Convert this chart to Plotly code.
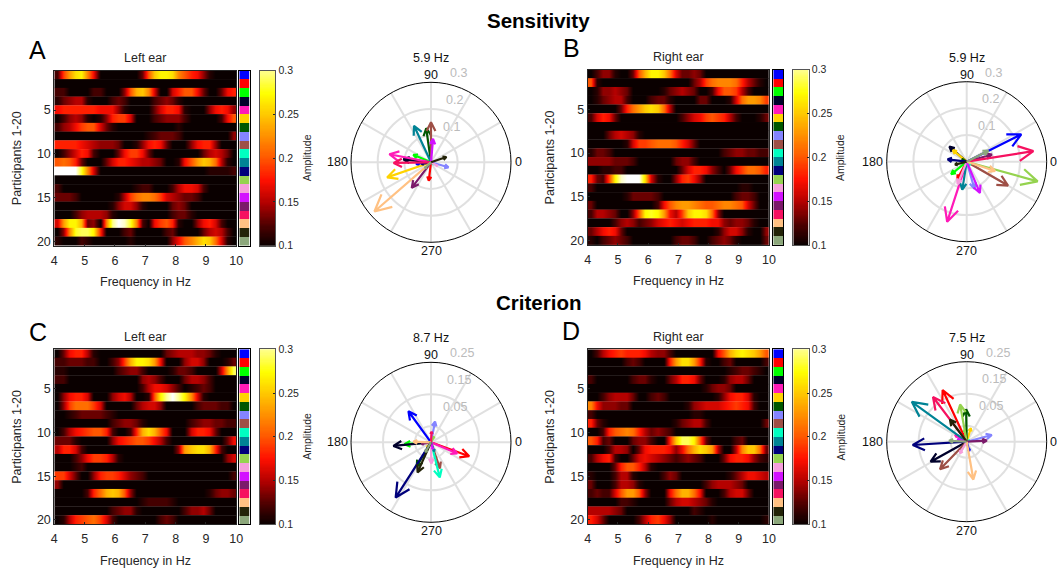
import cmath, math
import numpy as np
import plotly.graph_objects as go

W, H = 1057, 572

# Amplitude in hundredths, 30 columns of 0.2 Hz from 4 to 10 Hz, rows = participants 1-20
sens_left = [
 [12,19,23,26,27,22,17,10,10,10,10,10,10,10,13,20,25,27,27,26,22,20,18,17,14,11,10,10,10,10],
 [10,10,10,10,10,10,10,10,10,10,10,10,10,10,10,10,10,10,10,10,10,10,10,10,10,10,10,10,10,10],
 [12,12,10,10,10,10,12,12,10,10,10,14,20,24,25,22,16,10,10,16,18,20,20,17,13,10,10,13,17,18],
 [11,13,14,15,15,11,10,10,10,12,13,12,10,10,10,10,12,13,14,13,11,10,10,10,10,10,10,10,10,10],
 [17,18,18,18,18,18,18,17,17,17,14,11,10,10,10,10,13,16,18,18,17,11,10,10,10,14,17,18,17,14],
 [10,12,14,15,14,11,10,11,14,18,19,19,16,10,10,10,12,13,14,14,14,12,10,10,10,10,10,12,17,20],
 [12,14,15,17,19,20,20,16,13,11,10,10,10,10,10,10,10,10,10,10,11,10,10,10,10,10,10,10,10,10],
 [10,10,10,10,10,10,10,10,10,10,10,10,10,10,10,11,12,13,13,13,12,10,10,10,10,10,10,10,10,14],
 [18,18,18,18,17,16,15,14,14,14,13,10,10,11,14,17,18,17,13,10,10,10,14,17,18,18,14,10,10,10],
 [10,12,14,16,18,17,12,10,10,10,13,17,19,19,17,13,10,10,10,10,10,10,10,10,13,15,16,15,13,10],
 [20,21,20,18,13,10,10,10,13,16,18,18,17,16,15,15,14,13,10,10,11,17,20,23,25,24,21,15,11,10],
 [32,32,32,32,28,22,16,10,10,10,10,10,10,10,10,10,10,10,10,10,10,10,10,10,10,11,11,11,11,12],
 [10,10,10,10,10,10,10,10,10,10,10,10,10,10,10,10,10,10,10,10,10,10,10,10,10,10,10,10,10,10],
 [12,10,10,10,10,10,10,10,10,10,10,10,10,11,12,12,10,10,10,12,15,17,17,16,12,10,10,10,10,10],
 [13,13,13,12,10,10,10,10,10,10,11,15,19,21,22,22,21,19,16,15,14,13,13,12,10,10,10,10,10,10],
 [10,10,10,10,10,10,10,10,10,11,14,16,16,14,11,10,10,10,10,13,14,13,10,10,10,10,10,10,10,10],
 [10,10,10,12,14,15,15,15,14,11,10,10,10,10,10,10,10,10,10,12,13,13,11,10,10,10,10,10,10,10],
 [16,23,27,27,24,13,14,10,22,30,32,31,28,22,12,10,17,19,20,18,11,10,10,14,17,18,16,12,10,10],
 [10,14,22,28,29,29,27,18,10,10,10,12,13,10,10,10,10,10,12,13,10,10,10,10,13,15,16,15,12,10],
 [11,10,10,10,12,11,10,10,10,10,10,10,11,10,10,10,10,10,10,14,17,20,22,24,26,25,21,16,11,10],
]
sens_right = [
 [10,12,14,14,11,10,10,13,20,24,27,27,25,21,16,13,13,14,13,10,10,10,10,10,10,10,10,10,10,10],
 [20,11,10,10,10,10,10,10,10,10,10,10,10,10,10,10,10,13,15,19,21,22,22,22,21,18,15,13,11,10],
 [10,11,14,14,15,14,13,10,10,10,10,10,11,13,14,15,14,13,10,10,12,17,20,20,19,15,12,10,10,10],
 [10,11,13,14,15,15,12,10,10,10,12,13,13,11,10,10,10,10,13,13,10,10,10,11,16,21,23,23,22,19],
 [10,10,10,10,10,13,18,21,23,25,26,25,21,15,10,10,10,10,10,10,10,10,10,10,10,10,10,10,10,10],
 [12,16,18,17,13,10,10,10,10,10,10,10,10,10,10,12,14,16,17,19,20,19,18,15,12,10,10,10,11,13],
 [10,10,10,10,10,10,10,10,10,10,10,10,10,10,10,10,10,10,10,10,10,10,10,10,10,10,10,10,10,10],
 [10,10,10,13,15,16,15,14,11,10,10,10,10,10,10,10,10,10,10,10,10,10,10,10,10,10,10,10,10,10],
 [10,10,10,10,10,10,11,16,19,19,20,21,21,21,20,18,16,13,10,10,10,10,10,10,10,10,10,10,10,10],
 [11,13,13,12,10,10,10,10,10,10,10,10,10,10,10,10,10,10,10,10,10,10,12,13,14,14,13,13,12,12],
 [14,14,14,14,13,13,13,12,10,10,10,10,10,10,13,14,14,12,10,10,10,10,10,10,10,10,10,10,10,10],
 [10,10,11,11,12,12,10,10,10,10,10,10,10,10,10,13,16,18,18,17,14,12,10,13,17,19,21,21,20,18],
 [18,13,12,19,27,31,32,32,32,26,16,11,10,10,14,18,19,17,14,10,10,10,10,10,10,10,10,10,10,10],
 [12,10,10,10,10,10,10,10,10,10,10,10,10,10,10,10,10,10,10,10,10,10,10,10,10,11,11,10,10,10],
 [10,10,10,10,10,10,11,13,13,13,13,12,10,10,10,10,10,10,10,10,10,10,10,10,12,13,13,12,10,10],
 [13,10,10,10,10,10,10,10,10,10,10,12,17,20,22,23,23,22,21,20,20,21,22,22,21,20,16,13,10,10],
 [12,15,15,14,13,10,10,14,20,27,28,27,23,17,15,19,25,27,27,26,21,14,10,10,10,10,10,10,10,10],
 [10,10,10,10,12,14,15,14,12,13,14,16,17,18,17,16,17,18,18,18,17,17,14,13,14,14,13,11,10,10],
 [13,15,17,18,17,13,10,10,10,10,10,10,10,10,10,10,10,10,10,10,10,11,14,16,16,14,11,10,10,14],
 [11,10,12,13,14,13,12,10,10,10,10,10,10,10,12,13,13,12,10,10,12,13,14,13,11,10,10,10,10,13],
]
crit_left = [
 [10,13,17,18,18,15,11,10,10,10,10,10,10,10,10,10,10,10,13,14,15,15,15,14,14,13,11,10,10,10],
 [12,12,13,13,13,12,12,10,10,12,14,19,24,27,27,26,23,17,10,10,10,14,16,16,14,10,10,10,11,13],
 [11,11,10,10,10,10,10,10,10,10,12,13,14,14,12,10,10,10,10,11,13,13,12,10,10,10,10,16,23,29],
 [12,12,10,10,10,10,10,10,10,10,10,10,10,10,14,15,14,12,10,10,10,13,15,15,14,12,10,10,10,10],
 [10,10,10,10,10,10,10,10,10,10,10,10,10,10,12,15,17,17,16,14,12,10,11,12,13,12,10,10,10,10],
 [10,14,17,18,18,16,10,10,10,14,16,17,15,10,10,11,20,27,30,32,30,27,22,16,11,10,10,10,10,10],
 [10,14,19,21,21,21,19,16,10,10,10,10,10,13,15,16,16,14,10,10,10,10,10,12,13,13,13,12,12,10],
 [10,10,11,12,13,13,13,13,12,11,10,10,10,10,10,10,10,10,10,10,10,10,10,10,10,10,10,10,10,10],
 [10,10,10,10,10,10,10,10,10,12,13,14,14,13,11,10,10,10,10,10,10,10,12,13,14,14,13,13,12,12],
 [10,12,15,17,18,19,20,20,18,12,10,10,12,18,24,26,24,20,17,10,10,10,16,18,18,17,13,10,10,10],
 [13,13,13,11,10,10,10,10,10,14,17,18,19,20,20,19,17,15,12,10,10,10,10,10,10,10,10,10,13,17],
 [15,18,18,16,12,10,10,10,10,10,10,10,10,10,10,10,10,10,10,10,14,23,25,26,26,24,18,12,10,10],
 [10,10,10,12,14,17,19,19,18,15,11,10,10,10,10,10,10,10,10,10,10,10,10,10,10,10,10,10,14,16],
 [10,10,10,11,12,10,10,10,10,10,10,10,10,10,10,10,10,10,10,10,10,10,10,10,10,10,10,10,10,10],
 [19,19,16,13,10,10,14,18,19,19,18,16,14,13,12,10,10,10,10,10,10,10,10,10,10,10,10,10,10,12],
 [14,10,10,10,10,10,10,10,10,10,10,10,10,10,10,10,10,10,10,10,10,10,10,10,10,10,10,10,10,10],
 [10,10,10,10,10,12,18,21,24,25,24,20,14,10,10,10,10,10,10,10,10,10,10,10,10,11,13,14,14,13],
 [10,10,10,10,10,10,10,10,10,10,10,10,10,10,11,12,12,12,12,11,10,10,10,10,10,10,10,10,10,10],
 [10,10,10,10,10,10,10,10,10,12,13,14,14,11,10,10,10,10,10,10,10,12,14,14,15,13,10,10,10,10],
 [10,11,15,18,19,20,21,19,16,12,10,10,10,10,10,10,10,12,13,12,10,10,10,10,10,10,10,10,10,10],
]
crit_right = [
 [10,12,15,17,18,19,18,18,18,17,15,14,14,12,10,10,10,10,10,10,10,17,20,24,26,27,26,25,23,20],
 [10,10,10,10,10,10,12,13,12,10,10,10,10,18,23,26,26,23,18,11,10,10,12,13,10,10,10,10,10,12],
 [10,10,10,10,10,10,10,10,10,10,10,10,10,10,10,10,10,10,10,10,10,10,10,11,12,13,13,12,11,10],
 [12,10,10,10,10,10,10,12,13,13,11,10,10,13,15,18,18,17,13,10,10,10,11,14,15,15,13,10,10,10],
 [10,10,10,10,10,10,10,10,10,10,10,10,10,10,10,10,10,10,10,11,13,14,14,13,10,10,10,10,10,10],
 [10,10,12,14,15,15,15,13,10,10,12,13,12,10,10,10,10,10,10,10,10,11,14,17,18,18,16,11,10,10],
 [22,17,14,14,14,13,13,10,10,10,10,10,10,10,10,10,11,14,15,16,16,16,17,18,19,18,17,12,10,10],
 [12,10,10,10,10,10,10,10,10,10,10,10,10,10,10,10,10,11,11,10,10,10,10,10,10,10,10,10,10,10],
 [18,13,11,10,10,10,10,10,10,10,10,10,10,10,11,13,14,15,15,12,10,10,10,10,10,10,10,10,10,13],
 [10,10,12,18,20,21,22,21,18,15,13,14,13,12,10,10,10,10,10,10,10,10,10,10,10,10,10,10,10,10],
 [20,18,12,13,10,10,10,13,14,14,12,10,10,18,25,29,29,27,20,13,10,10,10,10,12,13,10,10,10,10],
 [10,10,10,12,15,15,14,10,13,17,18,18,18,17,14,17,21,24,26,25,23,15,10,10,15,22,25,25,21,13],
 [12,15,17,18,12,10,10,13,16,17,16,15,14,13,12,13,14,13,12,10,10,10,13,17,18,18,17,14,12,11],
 [10,10,10,10,13,18,20,20,18,15,11,10,10,10,10,10,10,10,10,10,10,10,10,10,10,10,10,10,10,10],
 [11,10,10,10,12,15,15,11,10,10,10,10,12,14,13,10,10,10,10,10,10,10,10,11,13,15,17,17,16,15],
 [13,10,10,10,12,15,15,14,11,10,10,10,10,10,10,10,10,10,10,12,14,15,15,15,14,13,10,10,10,10],
 [12,13,12,12,16,20,23,23,20,14,10,10,10,17,21,24,24,21,17,10,10,10,12,15,16,16,13,10,10,10],
 [10,10,10,10,10,12,12,11,10,10,10,10,10,13,15,16,16,15,14,13,11,10,10,10,10,10,10,10,10,10],
 [15,15,15,15,14,13,10,10,10,10,10,10,10,10,10,10,10,12,11,10,10,10,10,10,10,10,10,10,10,10],
 [18,16,13,10,10,10,10,10,12,15,18,19,17,14,10,10,10,10,10,10,11,10,10,10,10,10,10,10,10,11],
]
heat_panels = [sens_left, sens_right, crit_left, crit_right]
for p in heat_panels:
    assert len(p) == 20 and all(len(r) == 30 for r in p)

# Resultant vectors per participant: amplitude and phase in degrees
sens_left_amp = [.056,.069,.072,.104,.159,.174,.129,.068,.150,.012,.151,.036,.012,.028,.088,.120,.140,.281,.061,.032]
sens_left_deg = [186,263,157,174,169,199,98,344,90,320,115,190,200,330,85,233,181,221,19,225]
sens_right_amp = [.229,.074,.075,.086,.237,.068,.020,.106,.179,.018,.106,.072,.276,.091,.127,.098,.253,.112,.045,.091]
sens_right_deg = [26.6,242,219,139,252,140,150,286,330,315,261,173,344.5,248,293,16,9,342,194,27]
crit_left_amp = [.120,.127,.083,.118,.089,.020,.088,.066,.086,.113,.030,.205,.020,.066,.022,.030,.033,.055,.103,.035]
crit_left_deg = [126,340,184,185.5,337,230,239.5,79,289,284,290,237.4,60,271,285,190,87,178,246,240]
crit_right_amp = [.030,.178,.040,.129,.042,.044,.101,.081,.120,.010,.212,.169,.118,.042,.030,.063,.175,.120,.087,.055]
crit_right_deg = [286,115,97,209,150,73,91,15,226,30,144,183.5,100,240,165,3,127,280,127,177]
amp_panels = [sens_left_amp, sens_right_amp, crit_left_amp, crit_right_amp]
deg_panels = [sens_left_deg, sens_right_deg, crit_left_deg, crit_right_deg]

participant_colors = ["#0000ff","#ff0000","#00ff00","#00002b","#ff1ab8","#ffd300","#005700","#8484ff",
                      "#9e4f46","#00ffc1","#008395","#00007b","#95d34f","#f69edc","#d311ff","#7b1a6a",
                      "#f61160","#ffc183","#232308","#8ca77b"]
hz_labels = ["5.9 Hz","5.9 Hz","8.7 Hz","7.5 Hz"]
ear_titles = ["Left ear","Right ear","Left ear","Right ear"]
panel_letters = ["A","B","C","D"]
row_titles = ["Sensitivity","Criterion"]
radial_ticks = [[.1,.2,.3],[.1,.2,.3],[.05,.15,.25],[.05,.15,.25]]
radial_text = [["0.1","0.2","0.3"],["0.1","0.2","0.3"],["0.05","0.15","0.25"],["0.05","0.15","0.25"]]
amp_ticks = [.1,.15,.2,.25,.3]
amp_tick_text = ["0.1","0.15","0.2","0.25","0.3"]
angle_labels = ["0","90","180","270"]

FONT = "Liberation Sans"
TXT = "#262626"
GRID = "#e0e0e0"
Z_MIN, Z_MAX = .1, .32
hot = [[0,"#0a0000"],[.10,"#4a0000"],[.22,"#b00000"],[.34,"#ff1000"],[.46,"#ff5a00"],
       [.68,"#ffc800"],[.79,"#ffff00"],[.91,"#ffff90"],[1,"#ffffff"]]

def fx(p): return p / W
def fy(p): return 1 - p / H

# pixel layout of each panel
boxes = [
 dict(l=54.3, r=236.3, t=70.7, b=245.7, s0=239.3, s1=249.7, c0=260, c1=275.3, px=431, py=162.3, ylab=17, alab=307),
 dict(l=587.7, r=769, t=69.8, b=245, s0=773.3, s1=783.3, c0=793.3, c1=808.7, px=966.7, py=161.7, ylab=550, alab=840.7),
 dict(l=54.3, r=236.3, t=349.3, b=524.3, s0=239.3, s1=249.7, c0=260, c1=275.3, px=431, py=442.3, ylab=17, alab=307),
 dict(l=587.7, r=769, t=349.3, b=524.3, s0=773.3, s1=783.3, c0=793.3, c1=808.7, px=966.7, py=441.7, ylab=550, alab=840.7),
]
label_offsets = [(27,-89),(23.7,-62.6),(20,-35.6)]
angle_offsets = [(87,0),(0,-87),(-94,0),(0,89)]
letter_xy = [(37.5,50),(571,48),(38,332),(571,331)]

fig = go.Figure()
layout = {}
ann = []
tick_font = dict(family=FONT, size=12.5, color=TXT)
small_font = dict(family=FONT, size=10.5, color=TXT)
freq_centres = [4.1 + .2*i for i in range(30)]
R = 80

for i, b in enumerate(boxes):
    a = 3*i + 1
    names = [("x" if a+k == 1 else f"x{a+k}", "y" if a+k == 1 else f"y{a+k}") for k in range(3)]
    key = lambda s: s[0] + "axis" + s[1:]
    ydom = [fy(b["b"]), fy(b["t"])]
    # amplitude map: one smoothed strip per participant, so rows never blend into each other
    for row_no, row in enumerate(heat_panels[i], start=1):
        vals = [v/100 for v in row]
        fig.add_trace(go.Heatmap(z=[vals, vals], x=freq_centres, y=[row_no-.27, row_no+.27],
                                 zmin=Z_MIN, zmax=Z_MAX, colorscale=hot, showscale=False, hoverinfo="skip",
                                 zsmooth="best", xaxis=names[0][0], yaxis=names[0][1]))
    layout[key(names[0][0])] = dict(domain=[fx(b["l"]), fx(b["r"])], anchor=names[0][1], range=[4,10],
        tickvals=[4,5,6,7,8,9,10], ticks="inside", ticklen=2, tickcolor=TXT, showgrid=False, zeroline=False,
        showline=True, mirror=True, linecolor=TXT, linewidth=1, tickfont=tick_font, ticklabelstandoff=3)
    layout[key(names[0][1])] = dict(domain=ydom, anchor=names[0][0], range=[20.5,.5],
        tickvals=[5,10,15,20], ticks="inside", ticklen=2, tickcolor=TXT, showgrid=False, zeroline=False,
        showline=True, mirror=True, linecolor=TXT, linewidth=1, tickfont=tick_font)
    ann.append(dict(text="Frequency in Hz", x=fx((b["l"]+b["r"])/2), y=fy(b["b"]+36.5), xref="paper", yref="paper",
                    showarrow=False, font=tick_font, xanchor="center", yanchor="middle"))
    ann.append(dict(text="Participants 1-20", x=fx(b["ylab"]), y=fy((b["t"]+b["b"])/2), xref="paper", yref="paper",
                    showarrow=False, textangle=-90, font=tick_font, xanchor="center", yanchor="middle"))
    # participant colour strip
    n = len(participant_colors)
    cs = []
    for k, c in enumerate(participant_colors):
        cs += [[k/n, c], [(k+1)/n, c]]
    fig.add_trace(go.Heatmap(z=[[k] for k in range(n)], y=list(range(1,n+1)), zmin=-.5, zmax=n-.5, colorscale=cs,
                             showscale=False, hoverinfo="skip", xaxis=names[1][0], yaxis=names[1][1]))
    layout[key(names[1][0])] = dict(domain=[fx(b["s0"]), fx(b["s1"])], anchor=names[1][1], showticklabels=False,
        ticks="", showgrid=False, zeroline=False, showline=True, mirror=True, linecolor="black", linewidth=1)
    layout[key(names[1][1])] = dict(domain=ydom, anchor=names[1][0], range=[20.5,.5], showticklabels=False,
        ticks="", showgrid=False, zeroline=False, showline=True, mirror=True, linecolor="black", linewidth=1)
    # colour key
    levels = np.linspace(.1, .3, 150)
    fig.add_trace(go.Heatmap(z=[[v] for v in levels], y=levels, zmin=Z_MIN, zmax=Z_MAX, colorscale=hot,
                             showscale=False, hoverinfo="skip", xaxis=names[2][0], yaxis=names[2][1]))
    layout[key(names[2][0])] = dict(domain=[fx(b["c0"]), fx(b["c1"])], anchor=names[2][1], showticklabels=False,
        ticks="", showgrid=False, zeroline=False, showline=True, mirror=True, linecolor="#555555", linewidth=1)
    layout[key(names[2][1])] = dict(domain=ydom, anchor=names[2][0], range=[.1,.3], side="right",
        tickvals=amp_ticks, ticktext=amp_tick_text, ticks="inside", ticklen=2, tickcolor=TXT, showgrid=False,
        zeroline=False, showline=True, mirror=True, linecolor="#555555", linewidth=1, tickfont=small_font)
    ann.append(dict(text="Amplitude", x=fx(b["alab"]), y=fy((b["t"]+b["b"])/2), xref="paper", yref="paper",
                    showarrow=False, textangle=-90, font=small_font, xanchor="center", yanchor="middle"))
    # text over the panels
    ann.append(dict(text=ear_titles[i], x=fx((b["l"]+b["r"])/2), y=fy(b["t"]-12.5), xref="paper", yref="paper",
                    showarrow=False, font=tick_font, xanchor="center", yanchor="middle"))
    ann.append(dict(text=panel_letters[i], x=fx(letter_xy[i][0]), y=fy(letter_xy[i][1]), xref="paper", yref="paper",
                    showarrow=False, font=dict(family=FONT, size=25, color="black"), xanchor="center", yanchor="middle"))
    # polar compass
    pname = "polar" if i == 0 else f"polar{i+1}"
    cx, cy = b["px"], b["py"]
    layout[pname] = dict(
        domain=dict(x=[fx(cx-R), fx(cx+R)], y=[fy(cy+R), fy(cy-R)]),
        bgcolor="white",
        angularaxis=dict(direction="counterclockwise", rotation=0, tickvals=list(range(0,360,30)),
            showticklabels=False, ticks="", linecolor="black", linewidth=1, gridcolor=GRID, gridwidth=2),
        radialaxis=dict(range=[0, radial_ticks[i][-1]], tickvals=radial_ticks[i], showticklabels=False, ticks="",
            showline=False, gridcolor=GRID, gridwidth=2),
    )
    for amp, deg, col in zip(amp_panels[i], deg_panels[i], participant_colors):
        tip = cmath.rect(amp, math.radians(deg))
        barbs = [tip*complex(.78, .11), tip*complex(.78, -.11)]
        pts = [0, tip, barbs[0], tip, barbs[1]]
        fig.add_trace(go.Scatterpolar(r=[abs(p) for p in pts],
                                      theta=[math.degrees(cmath.phase(p)) if p != 0 else 0 for p in pts],
                                      mode="lines", line=dict(color=col, width=2.2), subplot=pname,
                                      showlegend=False, hoverinfo="skip"))
    ann.append(dict(text=hz_labels[i], x=fx(cx), y=fy(cy-104), xref="paper", yref="paper", showarrow=False,
                    font=dict(family=FONT, size=12.5, color="#111111"), xanchor="center", yanchor="middle"))
    for (dx, dy), t in zip(angle_offsets, angle_labels):
        ann.append(dict(text=t, x=fx(cx+dx), y=fy(cy+dy), xref="paper", yref="paper", showarrow=False,
                        font=dict(family=FONT, size=12.5, color="#111111"), xanchor="center", yanchor="middle"))
    for (dx, dy), t in zip(label_offsets, radial_text[i][::-1]):
        off = dx + (4 if i >= 2 else 0)
        ann.append(dict(text=t, x=fx(cx+off), y=fy(cy+dy), xref="paper", yref="paper", showarrow=False,
                        font=dict(family=FONT, size=12.5, color="#bbbbbb"), xanchor="center", yanchor="middle"))

for t, y in zip(row_titles, [20, 302]):
    ann.append(dict(text=f"<b>{t}</b>", x=fx(538), y=fy(y), xref="paper", yref="paper", showarrow=False,
                    font=dict(family=FONT, size=20.5, color="black"), xanchor="center", yanchor="middle"))

fig.update_layout(width=W, height=H, margin=dict(l=0, r=0, t=0, b=0, autoexpand=False), paper_bgcolor="white",
                  plot_bgcolor="white", showlegend=False, annotations=ann, **layout)
fig.write_html("out.html", config={"displayModeBar": False},
               post_script="document.body.style.margin='0';document.body.style.overflow='hidden';")
